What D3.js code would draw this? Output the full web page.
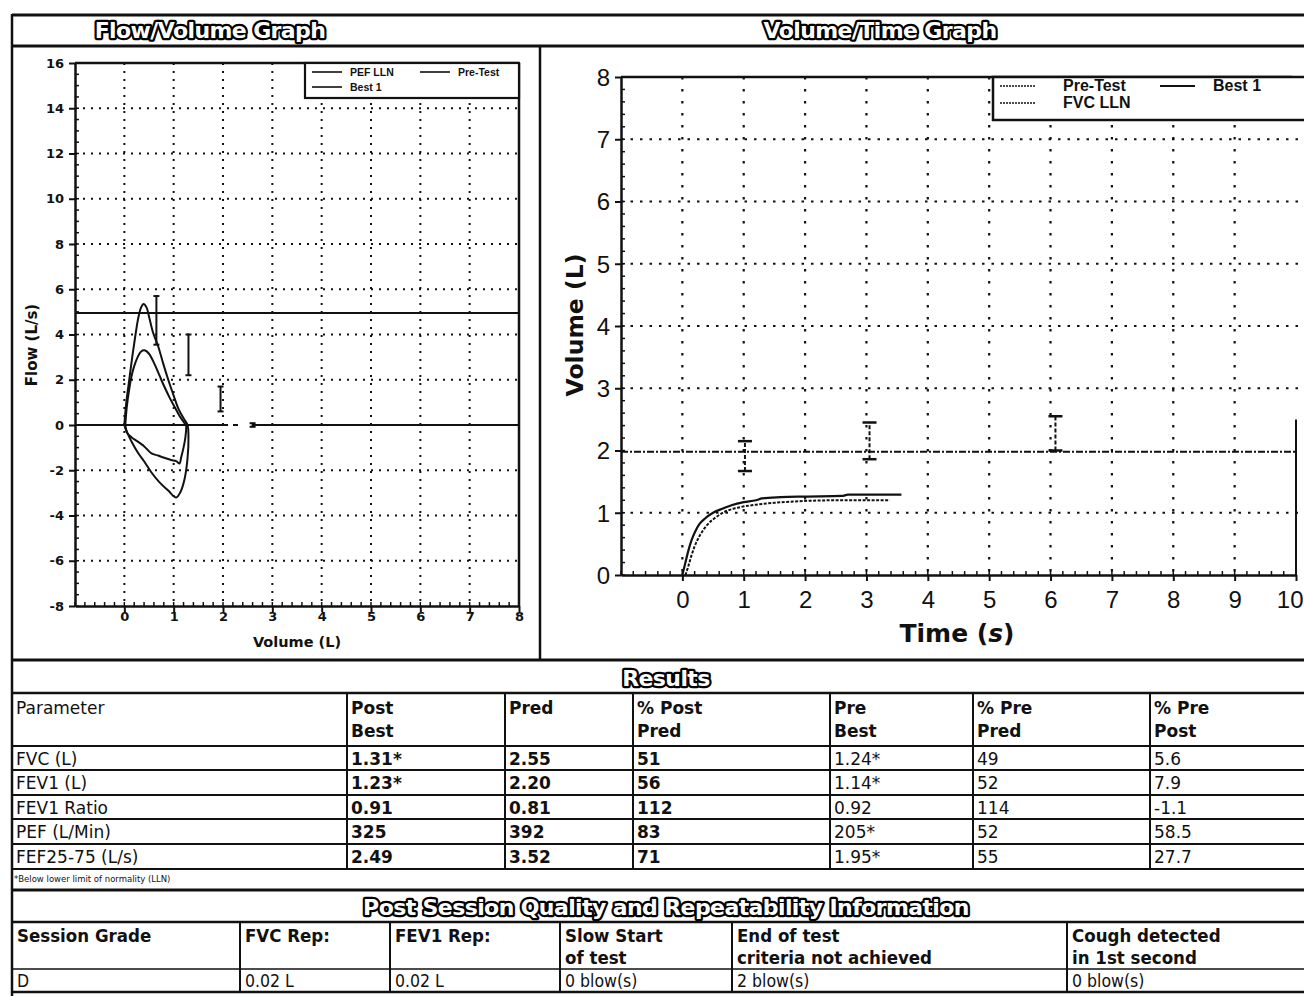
<!DOCTYPE html>
<html><head><meta charset="utf-8">
<script src="https://cdn.jsdelivr.net/npm/d3@7"></script>
<style>
body{margin:0;background:#fff;overflow:hidden;}
svg{display:block;}
</style></head><body>
<svg id="c" width="1304" height="996"></svg>
<script>
// ---------------- DATA ----------------
const fvTicksX = [0,1,2,3,4,5,6,7,8];
const fvTicksY = [-8,-6,-4,-2,0,2,4,6,8,10,12,14,16];
const fvGridX = [0,1,2,3,4,5,6,7];
const fvGridY = [-6,-4,-2,2,4,6,8,10,12,14];
// Flow/Volume loops [volume L, flow L/s]
const best1Loop = [[0,0],[0.04,1.0],[0.1,2.0],[0.16,3.0],[0.22,3.9],[0.28,4.7],[0.34,5.2],[0.39,5.35],[0.45,5.2],[0.5,4.8],[0.58,4.1],[0.69,3.45],[0.79,2.7],[0.89,2.0],[1.0,1.3],[1.1,0.7],[1.2,0.3],[1.28,0],
  [1.3,-0.5],[1.28,-1.5],[1.22,-2.4],[1.14,-2.95],[1.05,-3.2],[0.89,-2.9],[0.7,-2.5],[0.55,-2.1],[0.4,-1.6],[0.28,-1.24],[0.15,-0.75],[0.1,-0.53],[0.03,-0.2],[0,0]];
const preLoop = [[0.02,0],[0.05,0.8],[0.1,1.6],[0.14,2.1],[0.2,2.6],[0.27,3.0],[0.34,3.25],[0.41,3.3],[0.5,3.15],[0.61,2.7],[0.71,2.2],[0.81,1.7],[0.92,1.2],[1.02,0.8],[1.12,0.4],[1.22,0.08],[1.25,0],
  [1.24,-0.5],[1.2,-1.0],[1.15,-1.45],[1.12,-1.7],[1.05,-1.6],[0.95,-1.55],[0.81,-1.45],[0.68,-1.35],[0.55,-1.25],[0.45,-1.05],[0.38,-0.9],[0.25,-0.7],[0.15,-0.55],[0.06,-0.35],[0.02,0]];
const pefLLN = 4.95;
// predicted range bars [volume, low flow, high flow]
const fvRefBars = [[0.65,3.55,5.7],[1.3,2.2,4.0],[1.95,0.6,1.7],[2.6,-0.08,0.08]];

const vtTicksX = [0,1,2,3,4,5,6,7,8,9,10];
const vtTicksY = [0,1,2,3,4,5,6,7,8];
const vtGridX = [0,1,2,3,4,5,6,7,8,9];
const vtGridY = [1,3,4,5,6,7];
// Volume/Time curves [time s, volume L]
const best1VT = [[0,0],[0.05,0.2],[0.1,0.4],[0.15,0.56],[0.2,0.68],[0.28,0.82],[0.36,0.9],[0.5,1.0],[0.64,1.06],[0.8,1.12],[1.0,1.17],[1.2,1.2],[1.3,1.23],[1.6,1.25],[2.0,1.26],[2.6,1.27],[2.7,1.29],[3.0,1.29],[3.57,1.29]];
const preVT = [[0.05,0],[0.1,0.15],[0.15,0.32],[0.2,0.46],[0.3,0.66],[0.4,0.8],[0.55,0.93],[0.7,1.02],[0.9,1.08],[1.2,1.13],[1.5,1.16],[2.0,1.19],[2.5,1.2],[3.0,1.2],[3.38,1.2]];
const fvcLLN = 1.98;
const vtRefBars = [[1.02,1.67,2.15],[3.05,1.86,2.45],[6.08,2.0,2.55]];

// Results table
const resHeaders = ["Parameter","Post|Best","Pred","% Post|Pred","Pre|Best","% Pre|Pred","% Pre|Post"];
const params = ["FVC (L)","FEV1 (L)","FEV1 Ratio","PEF (L/Min)","FEF25-75 (L/s)"];
const postBest = ["1.31*","1.23*","0.91","325","2.49"];
const pred = ["2.55","2.20","0.81","392","3.52"];
const pctPostPred = ["51","56","112","83","71"];
const preBest = ["1.24*","1.14*","0.92","205*","1.95*"];
const pctPrePred = ["49","52","114","52","55"];
const pctPrePost = ["5.6","7.9","-1.1","58.5","27.7"];
// Quality table
const qHeaders = ["Session Grade","FVC Rep:","FEV1 Rep:","Slow Start|of test","End of test|criteria not achieved","Cough detected|in 1st second"];
const qValues = ["D","0.02 L","0.02 L","0 blow(s)","2 blow(s)","0 blow(s)"];

// ---------------- DRAW ----------------
const svg = d3.select("#c");
const INK = "#111";

function hline(x1,x2,y,w){svg.append("line").attr("x1",x1).attr("x2",x2).attr("y1",y).attr("y2",y).attr("stroke",INK).attr("stroke-width",w||2);}
function vline(x,y1,y2,w){svg.append("line").attr("x1",x).attr("x2",x).attr("y1",y1).attr("y2",y2).attr("stroke",INK).attr("stroke-width",w||2);}
function title(txt,x,y,size){
  svg.append("text").attr("x",x).attr("y",y).attr("text-anchor","middle")
    .attr("font-family","DejaVu Sans, Verdana").attr("font-weight","bold")
    .attr("font-size",size).attr("fill","#fff").attr("stroke","#000").attr("stroke-width",4.5)
    .attr("stroke-linejoin","round").attr("paint-order","stroke").attr("letter-spacing",-0.6).text(txt);
}
const fmt = d=>String(d);

// frame
vline(12,14,996,2.5);
hline(12,1304,15,3);
hline(12,1304,46,3);
vline(540,46,660,2.5);
hline(12,1304,660,3);
title("Flow/Volume Graph",210,38,22);
title("Volume/Time Graph",880,38,22);

// ---- Flow/Volume ----
const xFV = d3.scaleLinear([-1,8],[75,519]);
const yFV = d3.scaleLinear([-8,16],[606,63]);
const gFV = svg.append("g");
gFV.selectAll(".gx").data(fvGridX).join("line").attr("x1",d=>xFV(d)).attr("x2",d=>xFV(d)).attr("y1",yFV(16)).attr("y2",yFV(-8))
  .attr("stroke",INK).attr("stroke-width",2).attr("stroke-dasharray","2,6");
gFV.selectAll(".gy").data(fvGridY).join("line").attr("x1",xFV(-1)).attr("x2",xFV(8)).attr("y1",d=>yFV(d)).attr("y2",d=>yFV(d))
  .attr("stroke",INK).attr("stroke-width",2).attr("stroke-dasharray","2,6");
const axL = d3.axisLeft(yFV).tickValues(fvTicksY).tickSize(6).tickSizeOuter(0).tickFormat(fmt);
const gl = gFV.append("g").attr("transform",`translate(${xFV(-1)},0)`).call(axL);
const axB = d3.axisBottom(xFV).tickValues(fvTicksX).tickSize(6).tickSizeOuter(0).tickFormat(fmt);
const gb = gFV.append("g").attr("transform",`translate(0,${yFV(-8)})`).call(axB);
[gl,gb].forEach(g=>{g.select(".domain").attr("stroke",INK).attr("stroke-width",2.5);
  g.selectAll("line").attr("stroke",INK).attr("stroke-width",2);
  g.selectAll("text").attr("font-family","DejaVu Sans, Verdana").attr("font-weight","bold").attr("font-size",13).attr("fill",INK);});
gl.selectAll("text").attr("dx",-2);
gb.selectAll("text").attr("dy",6);
gFV.selectAll(".mty").data(d3.range(-8,16.01,0.5)).join("line").attr("x1",xFV(-1)).attr("x2",xFV(-1)+4).attr("y1",d=>yFV(d)).attr("y2",d=>yFV(d)).attr("stroke",INK).attr("stroke-width",1.5);
gFV.selectAll(".mtx").data(d3.range(-1,8.01,0.2)).join("line").attr("x1",d=>xFV(d)).attr("x2",d=>xFV(d)).attr("y1",yFV(-8)-4).attr("y2",yFV(-8)).attr("stroke",INK).attr("stroke-width",1.5);
gFV.append("line").attr("x1",xFV(-1)).attr("x2",xFV(8)).attr("y1",yFV(16)).attr("y2",yFV(16)).attr("stroke",INK).attr("stroke-width",2.5);
gFV.append("line").attr("x1",xFV(8)).attr("x2",xFV(8)).attr("y1",yFV(16)).attr("y2",yFV(-8)).attr("stroke",INK).attr("stroke-width",2.5);
gFV.append("line").attr("x1",xFV(-1)).attr("x2",xFV(2.0)).attr("y1",yFV(0)).attr("y2",yFV(0)).attr("stroke",INK).attr("stroke-width",2.2);
gFV.append("line").attr("x1",xFV(2.0)).attr("x2",xFV(2.4)).attr("y1",yFV(0)).attr("y2",yFV(0)).attr("stroke",INK).attr("stroke-width",2).attr("stroke-dasharray","5,5");
gFV.append("line").attr("x1",xFV(2.6)).attr("x2",xFV(8)).attr("y1",yFV(0)).attr("y2",yFV(0)).attr("stroke",INK).attr("stroke-width",2.2);
gFV.append("line").attr("x1",xFV(-1)).attr("x2",xFV(8)).attr("y1",yFV(pefLLN)).attr("y2",yFV(pefLLN)).attr("stroke",INK).attr("stroke-width",2.2);
const capW = 6;
fvRefBars.forEach(b=>{
  const x=xFV(b[0]);
  gFV.append("line").attr("x1",x).attr("x2",x).attr("y1",yFV(b[1])).attr("y2",yFV(b[2])).attr("stroke",INK).attr("stroke-width",2);
  [b[1],b[2]].forEach(v=>gFV.append("line").attr("x1",x-capW/2).attr("x2",x+capW/2).attr("y1",yFV(v)).attr("y2",yFV(v)).attr("stroke",INK).attr("stroke-width",2));
});
const lineFV = d3.line().x(d=>xFV(d[0])).y(d=>yFV(d[1])).curve(d3.curveCatmullRom.alpha(0.5));
gFV.append("path").attr("d",lineFV(preLoop)).attr("fill","none").attr("stroke",INK).attr("stroke-width",2);
gFV.append("path").attr("d",lineFV(best1Loop)).attr("fill","none").attr("stroke",INK).attr("stroke-width",2);
const lgF = gFV.append("g");
lgF.append("rect").attr("x",305).attr("y",yFV(16)).attr("width",xFV(8)-305).attr("height",35).attr("fill","#fff").attr("stroke",INK).attr("stroke-width",2.2);
[[312,72,"PEF LLN"],[420,72,"Pre-Test"],[312,87,"Best 1"]].forEach(e=>{
  lgF.append("line").attr("x1",e[0]).attr("x2",e[0]+30).attr("y1",e[1]).attr("y2",e[1]).attr("stroke",INK).attr("stroke-width",1.6);
  lgF.append("text").attr("x",e[0]+38).attr("y",e[1]+4).attr("font-family","Liberation Sans Narrow, Liberation Sans, Arial").attr("font-weight","bold").attr("font-size",10.5).attr("fill",INK).text(e[2]);
});
svg.append("text").attr("transform",`translate(37,345) rotate(-90)`).attr("text-anchor","middle")
  .attr("font-family","DejaVu Sans, Verdana").attr("font-weight","bold").attr("font-size",15).attr("fill",INK).text("Flow (L/s)");
svg.append("text").attr("x",297).attr("y",647).attr("text-anchor","middle")
  .attr("font-family","DejaVu Sans, Verdana").attr("font-weight","bold").attr("font-size",14.5).attr("fill",INK).text("Volume (L)");

// ---- Volume/Time ----
const xVT = d3.scaleLinear([-1,10],[621,1296]);
const yVT = d3.scaleLinear([0,8],[575,77]);
const gVT = svg.append("g");
gVT.selectAll(".gx").data(vtGridX).join("line").attr("x1",d=>xVT(d)).attr("x2",d=>xVT(d)).attr("y1",yVT(8)).attr("y2",yVT(0))
  .attr("stroke",INK).attr("stroke-width",2.2).attr("stroke-dasharray","2.5,9.5");
gVT.selectAll(".gy").data(vtGridY).join("line").attr("x1",xVT(-1)).attr("x2",1304).attr("y1",d=>yVT(d)).attr("y2",d=>yVT(d))
  .attr("stroke",INK).attr("stroke-width",2.2).attr("stroke-dasharray","2.5,7");
const axL2 = d3.axisLeft(yVT).tickValues(vtTicksY).tickSize(6).tickSizeOuter(0).tickFormat(fmt);
const gl2 = gVT.append("g").attr("transform",`translate(${xVT(-1)},0)`).call(axL2);
const axB2 = d3.axisBottom(xVT).tickValues(vtTicksX).tickSize(6).tickSizeOuter(0).tickFormat(fmt);
const gb2 = gVT.append("g").attr("transform",`translate(0,${yVT(0)})`).call(axB2);
[gl2,gb2].forEach(g=>{g.select(".domain").attr("stroke",INK).attr("stroke-width",2.5);
  g.selectAll("line").attr("stroke",INK).attr("stroke-width",2);
  g.selectAll("text").attr("font-family","Liberation Sans, Arial").attr("font-size",24).attr("fill",INK);});
gl2.selectAll("text").attr("dx",-2).attr("dy","0.35em");
gb2.selectAll("text").attr("dy",24);
gb2.selectAll(".tick").filter(d=>d===10).select("text").attr("text-anchor","end").attr("dx",7);
gVT.selectAll(".mty").data(d3.range(0,8.01,0.2)).join("line").attr("x1",xVT(-1)).attr("x2",xVT(-1)+4).attr("y1",d=>yVT(d)).attr("y2",d=>yVT(d)).attr("stroke",INK).attr("stroke-width",1.5);
gVT.selectAll(".mtx").data(d3.range(-1,10.01,0.2)).join("line").attr("x1",d=>xVT(d)).attr("x2",d=>xVT(d)).attr("y1",yVT(0)-4).attr("y2",yVT(0)).attr("stroke",INK).attr("stroke-width",1.5);
gVT.append("line").attr("x1",xVT(-1)).attr("x2",1292).attr("y1",yVT(8)).attr("y2",yVT(8)).attr("stroke",INK).attr("stroke-width",2.5);
gVT.append("line").attr("x1",xVT(10)).attr("x2",xVT(10)).attr("y1",yVT(2.5)).attr("y2",yVT(0)).attr("stroke",INK).attr("stroke-width",2);
gVT.append("line").attr("x1",xVT(-1)).attr("x2",xVT(10)).attr("y1",yVT(fvcLLN)).attr("y2",yVT(fvcLLN)).attr("stroke",INK).attr("stroke-width",2.2).attr("stroke-dasharray","7,2,2,2");
vtRefBars.forEach(b=>{
  const x=xVT(b[0]);
  gVT.append("line").attr("x1",x).attr("x2",x).attr("y1",yVT(b[1])).attr("y2",yVT(b[2])).attr("stroke",INK).attr("stroke-width",2).attr("stroke-dasharray","4,2");
  [b[1],b[2]].forEach(v=>gVT.append("line").attr("x1",x-7).attr("x2",x+7).attr("y1",yVT(v)).attr("y2",yVT(v)).attr("stroke",INK).attr("stroke-width",2.5));
});
const lineVT = d3.line().x(d=>xVT(d[0])).y(d=>yVT(d[1])).curve(d3.curveMonotoneX);
gVT.append("path").attr("d",lineVT(preVT)).attr("fill","none").attr("stroke",INK).attr("stroke-width",2).attr("stroke-dasharray","3,1.5");
gVT.append("path").attr("d",lineVT(best1VT)).attr("fill","none").attr("stroke",INK).attr("stroke-width",2.2);
const lgV = gVT.append("g");
lgV.append("rect").attr("x",993).attr("y",yVT(8)).attr("width",330).attr("height",43).attr("fill","#fff").attr("stroke",INK).attr("stroke-width",2.5);
[[1000,86,"Pre-Test",true],[1160,86,"Best 1",false],[1000,103,"FVC LLN",true]].forEach(e=>{
  lgV.append("line").attr("x1",e[0]).attr("x2",e[0]+35).attr("y1",e[1]).attr("y2",e[1]).attr("stroke",INK).attr("stroke-width",e[3]?1.5:2)
    .attr("stroke-dasharray",e[3]?"2,1":null);
  lgV.append("text").attr("x",e[0]+(e[3]?63:53)).attr("y",e[1]+5).attr("font-family","Liberation Sans Narrow, Liberation Sans, Arial").attr("font-weight","bold").attr("font-size",16).attr("fill",INK).text(e[2]);
});
svg.append("text").attr("transform",`translate(583,325) rotate(-90)`).attr("text-anchor","middle")
  .attr("font-family","DejaVu Sans, Verdana").attr("font-weight","bold").attr("font-size",23.5).attr("fill",INK).text("Volume (L)");
const tt = svg.append("text").attr("x",957).attr("y",642).attr("text-anchor","middle")
  .attr("font-family","DejaVu Sans, Verdana").attr("font-weight","bold").attr("font-size",25).attr("fill",INK);
tt.append("tspan").text("Time (");
tt.append("tspan").attr("font-style","italic").text("s");
tt.append("tspan").text(")");

// ---- Results table ----
title("Results",666,686,22);
hline(12,1304,693,2.5);
const colX = [12,347,505,633,830,973,1150,1304];
const rowY = [693,746,770,795,819,844,869];
rowY.slice(1).forEach(y=>hline(12,1304,y,2));
colX.slice(0,-1).forEach(x=>vline(x,693,869,2));
const tFont = "DejaVu Sans, Verdana";
const resCols = [params,postBest,pred,pctPostPred,preBest,pctPrePred,pctPrePost];
resHeaders.forEach((h,i)=>{
  h.split("|").forEach((ln,j)=>{
    svg.append("text").attr("x",colX[i]+4).attr("y",714+j*23).attr("font-family",tFont).attr("font-weight",i==0?"normal":"bold")
      .attr("font-size",17).attr("fill",INK).text(ln);
  });
});
resCols.forEach((col,i)=>{
  col.forEach((v,r)=>{
    svg.append("text").attr("x",colX[i]+4).attr("y",rowY[r+1]+19).attr("font-family",tFont)
      .attr("font-weight",(i>=1&&i<=3)?"bold":"normal").attr("font-size",17).attr("fill",INK).text(v);
  });
});
svg.append("text").attr("x",14).attr("y",882).attr("font-family",tFont).attr("font-size",8.5).attr("fill",INK).text("*Below lower limit of normality (LLN)");

// ---- Quality table ----
hline(12,1304,890,3);
title("Post Session Quality and Repeatability Information",666,915,22);
hline(12,1304,922,2.5);
const qColX = [12,240,390,560,732,1067,1304];
hline(12,1304,969,1.5);
hline(12,1304,992,2.5);
qColX.slice(0,-1).forEach(x=>vline(x,922,992,2));
const qFont = "DejaVu Sans Condensed, DejaVu Sans";
qHeaders.forEach((h,i)=>{
  h.split("|").forEach((ln,j)=>{
    svg.append("text").attr("x",qColX[i]+5).attr("y",942+j*22).attr("font-family",qFont).attr("font-weight","bold")
      .attr("font-size",18.5).attr("fill",INK).text(ln);
  });
});
qValues.forEach((v,i)=>{
  svg.append("text").attr("x",qColX[i]+5).attr("y",987).attr("font-family",qFont).attr("font-size",17.5).attr("fill",INK).text(v);
});
</script>
</body></html>
